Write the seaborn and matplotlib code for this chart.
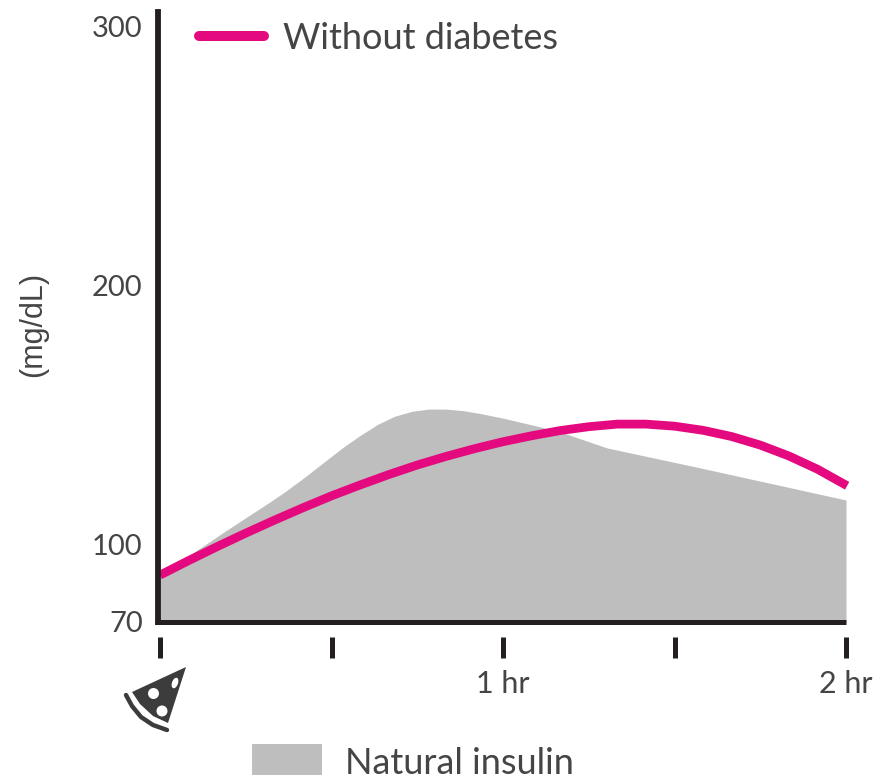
import numpy as np
import pandas as pd
import matplotlib
matplotlib.use("Agg")
import matplotlib.pyplot as plt
from matplotlib.patches import Polygon, Rectangle, Circle, Ellipse
import seaborn as sns

# values
glucose_min=[0,5,10,15,20,25,30,35,40,45,50,55,60,65,70,75,80,85,90,95,100,105,110,115,120.2]
glucose_val=[88.1,93.7,99.1,104.3,109.3,114.1,118.7,122.9,126.9,130.6,133.9,136.9,139.6,141.9,143.9,145.4,146.4,146.4,145.6,144.0,141.6,138.3,134.1,129.0,122.6]
insulin_min=[0,4.7,11.7,19.2,22,25,29.2,32,35,38,41,44,47,50,53,56,60,66,71.2,78.2,94.5,120]
insulin_val=[87.4,95.1,105.5,116.3,120.5,125.4,132.6,137.4,142.0,146.2,149.4,151.3,152.2,152.2,151.6,150.5,148.7,145.6,142.5,137.2,129.5,117.1]
y_ticks=[70,100,200,300]
x_ticks=[0,30,60,90,120]
x_labels=["","","1 hr","","2 hr"]

PINK="#e5097f"
GREY="#bebebe"
DARK="#231f20"
TEXT="#454545"
W,H=873,778

sns.set_theme(style="white")
plt.rcParams["font.family"]=["Lato","DejaVu Sans"]

fig=plt.figure(figsize=(W/100,H/100),dpi=100)
ax=fig.add_axes([160/W,1-622/H,686/W,610/H])
ax.set_xlim(0,120)
ax.set_ylim(70,305.5)

ax.fill_between(insulin_min,insulin_val,70,color=GREY,linewidth=0)
df=pd.DataFrame({"minutes":glucose_min,"glucose":glucose_val})
sns.lineplot(data=df,x="minutes",y="glucose",color=PINK,linewidth=6.3,errorbar=None,
             ax=ax,clip_on=False,solid_capstyle="butt")

# axis lines
sns.despine(ax=ax)
ax.spines["left"].set_position(("outward",1.5))
ax.spines["left"].set_linewidth(4.2)
ax.spines["left"].set_color(DARK)
ax.spines["bottom"].set_position(("outward",10.8))
ax.spines["bottom"].set_visible(False)
ax.hlines(70.0,-0.9,120,color=DARK,linewidth=3.6,clip_on=False,zorder=5)

ax.set_xticks(x_ticks)
ax.set_xticklabels(x_labels)
ax.set_yticks(y_ticks)
ax.tick_params(axis="x",length=15,width=3.6,color=DARK,pad=9,labelsize=22,labelcolor=TEXT,bottom=True)
ax.tick_params(axis="y",length=0,pad=11,labelsize=21,labelcolor=TEXT)
ax.set_xlabel("")
ax.set_ylabel("(mg/dL)",fontsize=22,color=TEXT,family="Liberation Sans")
ax.yaxis.set_label_coords(-112/686,0.487)

# overlay in pixel coordinates for legend and the pizza icon
ov=fig.add_axes([0,0,1,1])
ov.set_xlim(0,W)
ov.set_ylim(H,0)
ov.axis("off")
ov.patch.set_alpha(0)

ov.plot([199,264],[36,36],color=PINK,linewidth=7.2,solid_capstyle="round")
ov.text(283,38,"Without diabetes",fontsize=26,color=TEXT,va="center")
ov.add_patch(Rectangle((252,744),70,31,color=GREY,linewidth=0))
ov.text(345,763,"Natural insulin",fontsize=26,color=TEXT,va="center")

ICON="#3c3c3c"
ov.add_patch(Polygon([(186,667),(132,692),(140,704),(153,716),(168,723)],closed=True,color=ICON,linewidth=0))
ov.plot([126,132,141,153,167],[695,706,717,725,730],color=ICON,linewidth=3.2,solid_capstyle="round")
ov.add_patch(Circle((153.5,693.5),5.5,color="white",linewidth=0))
ov.add_patch(Circle((162,711),5.5,color="white",linewidth=0))
ov.add_patch(Ellipse((175,683),6,11,angle=20,color="white",linewidth=0))

fig.savefig("out.png",dpi=100,facecolor="white")
